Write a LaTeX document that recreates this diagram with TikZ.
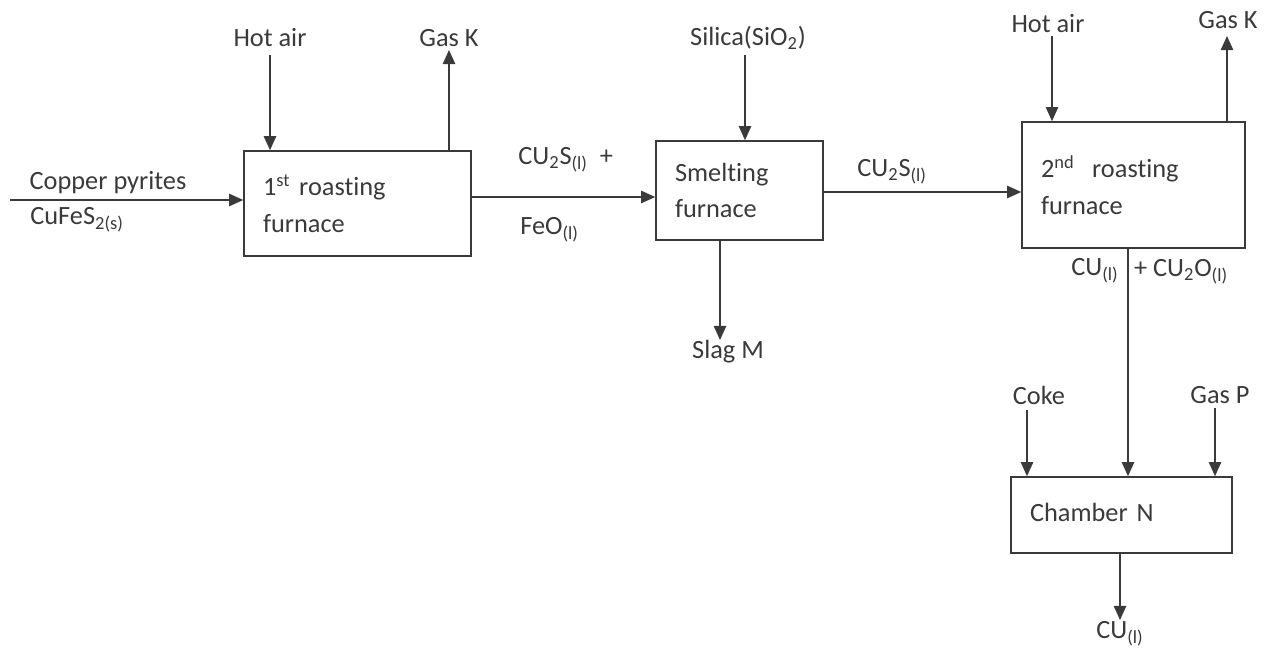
\documentclass[tikz,border=0pt]{standalone}
\usepackage{fontspec}
\setmainfont[Ligatures=NoCommon]{Carlito}
\usetikzlibrary{arrows.meta}
\definecolor{ink}{HTML}{3A3A3A}
\begin{document}
\begin{tikzpicture}[x=0.02cm,y=-0.02cm,
  every node/.style={text=ink,font=\fontsize{15}{21}\selectfont},
  box/.style={draw=ink,line width=0.9pt,inner xsep=0.38cm,inner ysep=0pt,align=left},
  lbl/.style={inner sep=0pt},
  flow/.style={draw=ink,line width=0.9pt,-{Triangle[length=8pt,width=7pt]}}]
\useasboundingbox (0,0) rectangle (1268,648);
% boxes
\node[box,minimum width=4.54cm,minimum height=2.1cm,text width=3.78cm] (r1) at (357.5,203.5) {1\textsuperscript{st} roasting\\furnace};
\node[box,minimum width=3.34cm,minimum height=1.98cm,text width=2.58cm] (sm) at (739.5,190.5) {Smelting\\furnace};
\node[box,minimum width=4.46cm,minimum height=2.52cm,text width=3.70cm] (r2) at (1133.5,185) {\raisebox{0.35cm}{2\textsuperscript{nd}\ \ roasting}\\[-0.35cm]furnace};
\node[box,minimum width=4.42cm,minimum height=1.52cm,text width=3.66cm] (ch) at (1121.5,515) {\raisebox{0.12cm}{Chamber N}};
% labels
\node[lbl] (cp) at (108,183) {Copper pyrites};
\node[lbl,anchor=west] (cf) at (30,220) {CuFeS\textsubscript{2(s)}};
\node[lbl] (ha1) at (270,38) {Hot air};
\node[lbl] (gk1) at (449,38) {Gas K};
\node[lbl,anchor=west] (c2s) at (518,160) {CU\textsubscript{2}S\textsubscript{(l)}\ \ +};
\node[lbl,anchor=west] (feo) at (520,230) {FeO\textsubscript{(l)}};
\node[lbl] (si) at (748,38) {Silica(SiO\textsubscript{2})};
\node[lbl] (sl) at (728,352) {Slag M};
\node[lbl,anchor=west] (c2s2) at (857,172) {CU\textsubscript{2}S\textsubscript{(l)}};
\node[lbl] (ha2) at (1048,24) {Hot air};
\node[lbl] (gk2) at (1228,20) {Gas K};
\node[lbl] (cul) at (1095,271) {CU\textsubscript{(l)}};
\node[lbl] (cuo) at (1181,272) {+ CU\textsubscript{2}O\textsubscript{(l)}};
\node[lbl] (ck) at (1039,395) {Coke};
\node[lbl] (gp) at (1220,395) {Gas P};
\node[lbl] (cuf) at (1120,634) {CU\textsubscript{(l)}};
% coordinates
\coordinate (in0) at (10,200);
\coordinate (ha1s) at (270,55);
\coordinate (gk1e) at (449,50);
\coordinate (sis) at (745,55);
\coordinate (sle) at (720,340);
\coordinate (ha2s) at (1052,36);
\coordinate (gk2e) at (1227,36);
\coordinate (cks) at (1027,410);
\coordinate (gps) at (1215,408);
\coordinate (cue) at (1120,620);
% connectors
\draw[flow] (in0) -- (in0 -| r1.west);
\draw[flow] (ha1s) -- (ha1s |- r1.north);
\draw[flow] (gk1e |- r1.north) -- (gk1e);
\draw[flow] (r1.east |- 0,197) -- (sm.west |- 0,197);
\draw[flow] (sis) -- (sis |- sm.north);
\draw[flow] (sle |- sm.south) -- (sle);
\draw[flow] (sm.east |- 0,192) -- (r2.west |- 0,192);
\draw[flow] (ha2s) -- (ha2s |- r2.north);
\draw[flow] (gk2e |- r2.north) -- (gk2e);
\draw[flow] (1128,0 |- r2.south) -- (1128,0 |- ch.north);
\draw[flow] (cks) -- (cks |- ch.north);
\draw[flow] (gps) -- (gps |- ch.north);
\draw[flow] (cue |- ch.south) -- (cue);
\end{tikzpicture}
\end{document}
